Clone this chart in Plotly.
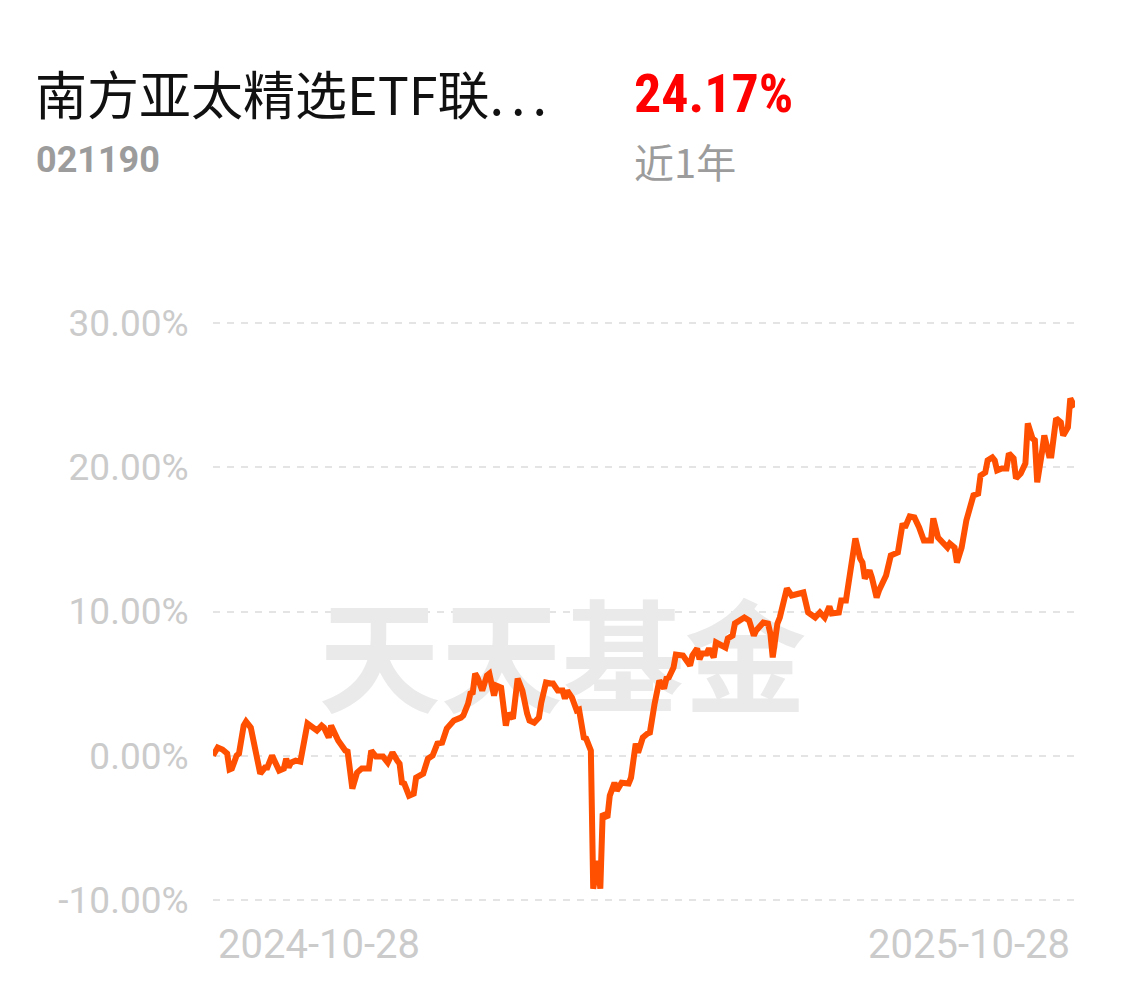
import pandas as pd
import plotly.graph_objects as go

# Days since 2024-10-28
day_offsets = [0,2,4,6,7,8,10,11,13,14,16,18,20,22,23,25,26,28,30,31,32,33,35,37,40,42,44,46,47,49,50,53,55,56,57,58,59,61,63,66,67,69,72,74,76,78,79,80,81,83,85,86,89,91,93,95,97,99,101,102,105,106,108,109,110,111,112,114,116,117,119,120,122,124,125,127,129,131,133,134,136,138,139,141,143,144,146,148,149,150,152,154,155,157,158,160,161,163,164,165,167,168,170,171,173,176,177,179,180,182,184,185,187,189,191,192,193,195,196,199,202,203,205,206,207,209,210,212,213,216,217,218,220,221,223,225,227,229,230,233,235,236,237,239,240,243,245,248,250,252,255,257,259,261,262,265,266,268,271,272,274,275,276,278,279,281,282,284,285,287,289,290,292,293,295,297,299,301,304,305,307,309,311,312,314,315,317,319,320,322,324,325,327,328,330,331,332,334,336,337,339,340,342,344,345,347,348,349,351,352,354,355,357,359,360,362,363,365]

# Cumulative return, %
returns_pct = [0.00,0.56,0.42,0.14,-0.97,-0.90,0.00,0.14,2.08,2.36,1.94,0.35,-1.25,-0.83,-0.83,0.00,-0.35,-1.04,-0.90,-0.21,-0.83,-0.49,-0.35,-0.42,2.22,1.94,1.74,2.08,1.94,1.25,2.08,1.04,0.49,0.35,0.28,-1.25,-2.29,-1.18,-0.90,-0.90,0.35,-0.07,-0.07,-0.49,0.21,-0.35,-0.56,-1.88,-1.94,-2.78,-2.64,-1.53,-1.25,-0.21,0.00,0.83,0.90,1.88,2.29,2.43,2.64,2.78,3.61,4.31,4.38,5.69,5.42,4.51,5.56,5.69,4.17,4.86,4.72,2.08,2.92,2.57,5.35,4.51,2.92,2.43,2.29,2.64,3.68,5.07,5.00,5.00,4.51,4.51,3.96,4.51,4.03,3.13,3.19,1.25,1.18,0.35,-9.24,-7.29,-9.24,-4.03,-4.31,-2.78,-1.88,-2.43,-1.88,-1.94,-1.53,0.83,0.21,1.25,1.53,1.60,3.61,5.21,4.65,5.35,5.42,6.11,7.01,6.94,6.25,6.94,7.43,6.67,7.08,7.08,7.43,6.81,7.85,7.64,7.50,8.13,8.33,9.17,9.44,9.58,9.38,8.33,8.68,9.24,9.17,8.47,6.81,9.17,9.58,11.60,11.11,11.25,11.32,9.93,9.58,9.93,9.58,10.35,9.86,9.93,10.76,10.76,13.75,15.07,13.68,13.40,12.29,12.85,12.36,10.97,11.46,12.29,12.50,13.89,14.03,14.10,16.11,15.83,16.60,16.53,15.83,14.93,14.93,16.46,15.14,14.79,14.44,14.72,14.44,13.40,14.44,16.32,16.81,18.06,18.19,19.44,19.65,20.49,20.69,20.49,19.79,19.93,19.93,20.97,20.63,19.24,19.58,20.28,23.06,22.01,21.88,18.96,21.04,22.22,20.83,20.83,23.40,23.13,22.22,22.78,24.79,24.17]

y_tick_values = [-10, 0, 10, 20, 30]
y_tick_labels = ["-10.00%", "0.00%", "10.00%", "20.00%", "30.00%"]
x_start_label = "2024-10-28"
x_end_label = "2025-10-28"

fund_name = "南方亚太精选ETF联"
ellipsis = "..."
fund_code = "021190"
period_return = "24.17%"
period_label = "近1年"
watermark = "天天基金"

start = pd.Timestamp(x_start_label)
dates = [start + pd.Timedelta(days=d) for d in day_offsets]

W, H = 1126, 986
L, R, T, B = 213, 51, 318.7, 81.7
PW, PH = W - L - R, H - T - B


def px_x(x):
    return (x - L) / PW


def px_y(y):
    return (H - B - y) / PH


fig = go.Figure()

# watermark drawn as a text trace behind the line
fig.add_trace(go.Scatter(
    x=[start + pd.Timedelta(days=148)], y=[5.8], mode="text", text=[watermark],
    textfont=dict(family="Noto Sans CJK SC", size=122, color="#eaeaea", weight="bold"),
    hoverinfo="skip", showlegend=False,
))

fig.add_trace(go.Scatter(
    x=dates, y=returns_pct, mode="lines",
    line=dict(color="#ff4f00", width=6, shape="linear"),
    showlegend=False, hoverinfo="skip",
))

title_text = fund_name + '<span style="letter-spacing:7px">' + ellipsis + '</span>'

fig.update_layout(
    width=W, height=H,
    paper_bgcolor="white", plot_bgcolor="white",
    margin=dict(l=L, r=R, t=T, b=B),
    font=dict(family="Roboto", color="#c8c8c8"),
    xaxis=dict(
        range=[start, pd.Timestamp(x_end_label)],
        showgrid=False, zeroline=False, showticklabels=False, showline=False,
        fixedrange=True,
    ),
    yaxis=dict(
        range=[-10.3, 30.3],
        tickvals=y_tick_values, ticktext=y_tick_labels,
        tickfont=dict(family="Roboto", size=37, color="#cbcbcb"),
        ticks="outside", ticklen=16, tickcolor="rgba(0,0,0,0)",
        showgrid=True, gridcolor="#e4e4e4", gridwidth=2, griddash="7px,7px",
        zeroline=False, showline=False, fixedrange=True,
    ),
    annotations=[
        dict(text=x_start_label, xref="paper", yref="paper", x=px_x(216), y=px_y(945),
             xanchor="left", yanchor="middle", showarrow=False,
             font=dict(family="Roboto", size=40, color="#cbcbcb")),
        dict(text=x_end_label, xref="paper", yref="paper", x=px_x(1072), y=px_y(945),
             xanchor="right", yanchor="middle", showarrow=False,
             font=dict(family="Roboto", size=40, color="#cbcbcb")),
        dict(text=title_text, xref="paper", yref="paper", x=px_x(33), y=px_y(92),
             xanchor="left", yanchor="middle", showarrow=False,
             font=dict(family="Noto Sans CJK SC", size=52, color="#111111")),
        dict(text=fund_code, xref="paper", yref="paper", x=px_x(34), y=px_y(160),
             xanchor="left", yanchor="middle", showarrow=False,
             font=dict(family="Roboto", size=36, color="#9c9c9c", weight="bold")),
        dict(text=period_return, xref="paper", yref="paper", x=px_x(632), y=px_y(93),
             xanchor="left", yanchor="middle", showarrow=False,
             font=dict(family="Liberation Sans Narrow, Roboto Condensed, Roboto", size=54,
                       color="#ff0000", weight="bold")),
        dict(text=period_label, xref="paper", yref="paper", x=px_x(632), y=px_y(161),
             xanchor="left", yanchor="middle", showarrow=False,
             font=dict(family="Noto Sans CJK SC", size=40, color="#9c9c9c")),
    ],
)

fig.write_html("out.html", post_script="document.body.style.margin='0px';",
               config={"displayModeBar": False})
